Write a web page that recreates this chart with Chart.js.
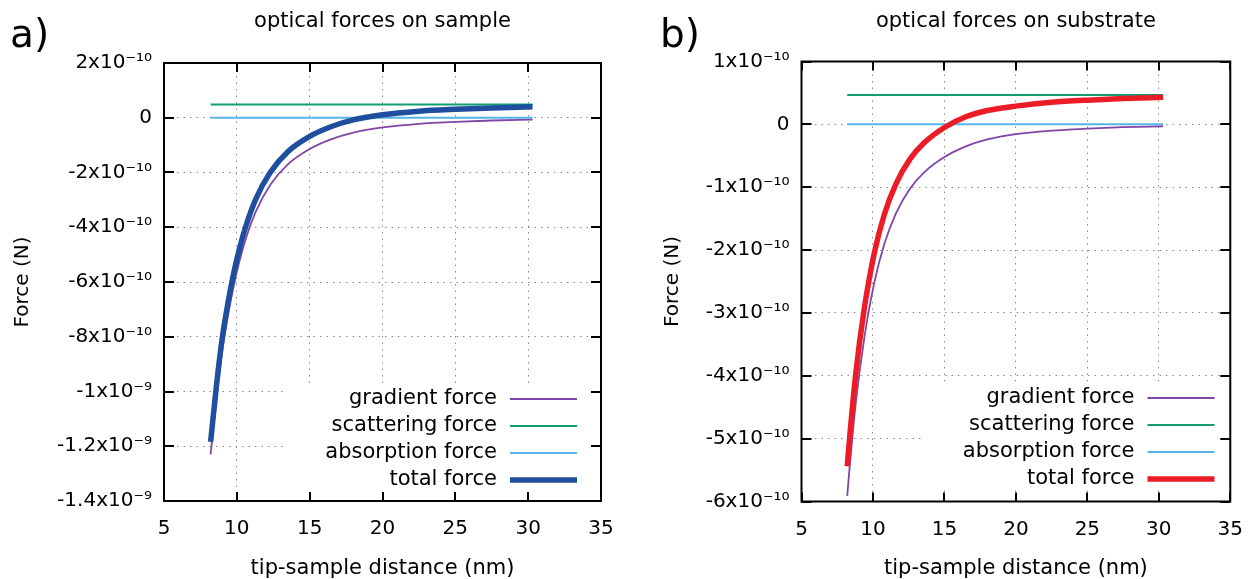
<!DOCTYPE html>
<html><head><meta charset="utf-8">
<script src="https://cdn.jsdelivr.net/npm/chart.js@4.4.1/dist/chart.umd.min.js"></script>
<style>
html,body{margin:0;padding:0;background:#fff;width:1259px;height:579px;overflow:hidden}
#wa{position:absolute;left:0;top:0;width:630px;height:579px}
#wb{position:absolute;left:630px;top:0;width:629px;height:579px}
canvas{display:block}
</style></head><body>
<div id="wa"><canvas id="ca" width="630" height="579"></canvas></div>
<div id="wb"><canvas id="cb" width="629" height="579"></canvas></div>
<script>
// ---------- data (forces in N, distance in nm) ----------
const seriesNames = ['gradient force', 'scattering force', 'absorption force', 'total force'];

// panel a) optical forces on sample
const distA = [8.2, 8.6, 9.0, 9.4, 9.8, 10.2, 10.6, 11.3, 12.3, 13.5, 15, 16.5, 18, 20, 22.5, 25, 27.5, 30.3];
const gradientA = [-12.3e-10, -10.25e-10, -8.5e-10, -7.2e-10, -6.1e-10, -5.2e-10, -4.45e-10, -3.43e-10, -2.45e-10, -1.7e-10, -1.14e-10, -0.78e-10, -0.54e-10, -0.35e-10, -0.22e-10, -0.15e-10, -0.1e-10, -0.065e-10];
const scatteringA = [4.8e-11, 4.8e-11, 4.8e-11, 4.8e-11, 4.8e-11, 4.8e-11, 4.8e-11, 4.8e-11, 4.8e-11, 4.8e-11, 4.8e-11, 4.8e-11, 4.8e-11, 4.8e-11, 4.8e-11, 4.8e-11, 4.8e-11, 4.8e-11];
const absorptionA = [0, 0, 0, 0, 0, 0, 0, 0, 0, 0, 0, 0, 0, 0, 0, 0, 0, 0];
const totalA = [-11.84e-10, -9.79e-10, -8.04e-10, -6.74e-10, -5.64e-10, -4.74e-10, -3.99e-10, -2.97e-10, -1.99e-10, -1.24e-10, -0.68e-10, -0.32e-10, -0.08e-10, 0.11e-10, 0.24e-10, 0.31e-10, 0.36e-10, 0.40e-10];

// panel b) optical forces on substrate
const distB = [8.2, 8.4, 8.8, 9.4, 10.1, 10.8, 11.6, 12.6, 13.6, 15, 16.5, 18, 20, 22.5, 25, 27.5, 30.3];
const gradientB = [-5.91e-10, -5.37e-10, -4.43e-10, -3.39e-10, -2.51e-10, -1.9e-10, -1.42e-10, -1.02e-10, -0.76e-10, -0.52e-10, -0.35e-10, -0.24e-10, -0.155e-10, -0.1e-10, -0.068e-10, -0.045e-10, -0.03e-10];
const scatteringB = [4.66e-11, 4.66e-11, 4.66e-11, 4.66e-11, 4.66e-11, 4.66e-11, 4.66e-11, 4.66e-11, 4.66e-11, 4.66e-11, 4.66e-11, 4.66e-11, 4.66e-11, 4.66e-11, 4.66e-11, 4.66e-11, 4.66e-11];
const absorptionB = [0, 0, 0, 0, 0, 0, 0, 0, 0, 0, 0, 0, 0, 0, 0, 0, 0];
const totalB = [-5.44e-10, -4.9e-10, -3.96e-10, -2.92e-10, -2.04e-10, -1.43e-10, -0.95e-10, -0.55e-10, -0.29e-10, -0.05e-10, 0.12e-10, 0.22e-10, 0.29e-10, 0.35e-10, 0.385e-10, 0.41e-10, 0.43e-10];

// ticks
const xTickValues = [5, 10, 15, 20, 25, 30, 35];
const xTickLabels = ['5', '10', '15', '20', '25', '30', '35'];
const yTickValuesA = [-14e-10, -12e-10, -10e-10, -8e-10, -6e-10, -4e-10, -2e-10, 0, 2e-10];
const yTickLabelsA = ['-1.4x10⁻⁹', '-1.2x10⁻⁹', '-1x10⁻⁹', '-8x10⁻¹⁰', '-6x10⁻¹⁰', '-4x10⁻¹⁰', '-2x10⁻¹⁰', '0', '2x10⁻¹⁰'];
const yTickValuesB = [-6e-10, -5e-10, -4e-10, -3e-10, -2e-10, -1e-10, 0, 1e-10];
const yTickLabelsB = ['-6x10⁻¹⁰', '-5x10⁻¹⁰', '-4x10⁻¹⁰', '-3x10⁻¹⁰', '-2x10⁻¹⁰', '-1x10⁻¹⁰', '0', '1x10⁻¹⁰'];

const titleA = 'optical forces on sample';
const titleB = 'optical forces on substrate';
const letterA = 'a)';
const letterB = 'b)';
const xAxisTitle = 'tip-sample distance (nm)';
const yAxisTitle = 'Force (N)';

// ---------- drawing ----------
const FONT = '"DejaVu Sans", "Liberation Sans", sans-serif';

const gnuplotFrame = {
  id: 'gnuplotFrame',
  beforeDatasetsDraw(chart, args, o) {
    const { ctx, chartArea: a } = chart;
    ctx.save();
    ctx.fillStyle = '#fff';
    ctx.fillRect(a.left + o.keyBox[0], a.top + o.keyBox[1], o.keyBox[2], o.keyBox[3]);
    ctx.restore();
  },
  afterDatasetsDraw(chart, args, o) {
    const { ctx, chartArea: a, scales } = chart;
    ctx.save();
    ctx.strokeStyle = '#000';
    ctx.lineWidth = 2;
    ctx.lineCap = 'butt';
    ctx.beginPath();
    scales.x.ticks.forEach(t => {
      const px = Math.round(scales.x.getPixelForValue(t.value));
      ctx.moveTo(px, a.bottom); ctx.lineTo(px, a.bottom - 9);
      ctx.moveTo(px, a.top); ctx.lineTo(px, a.top + 9);
    });
    scales.y.ticks.forEach(t => {
      const py = Math.round(scales.y.getPixelForValue(t.value));
      ctx.moveTo(a.left, py); ctx.lineTo(a.left + 10, py);
      ctx.moveTo(a.right, py); ctx.lineTo(a.right - 10, py);
    });
    ctx.stroke();
    ctx.strokeRect(a.left, a.top, a.right - a.left, a.bottom - a.top);

    // key
    ctx.font = '21px ' + FONT;
    ctx.textAlign = 'right';
    ctx.textBaseline = 'middle';
    chart.data.datasets.forEach((ds, i) => {
      const y = Math.round(a.top + o.keyTop + i * o.keyStep);
      ctx.fillStyle = '#000';
      ctx.fillText(ds.label, a.left + o.keyText, y);
      ctx.strokeStyle = ds.borderColor;
      ctx.lineWidth = ds.borderWidth;
      ctx.beginPath();
      ctx.moveTo(a.left + o.keyLine[0], y);
      ctx.lineTo(a.left + o.keyLine[1], y);
      ctx.stroke();
    });

    // title and panel letter
    ctx.fillStyle = '#000';
    ctx.textAlign = 'center';
    ctx.font = '21px ' + FONT;
    ctx.fillText(o.title, (a.left + a.right) / 2, 22);
    ctx.textAlign = 'left';
    ctx.font = '39px ' + FONT;
    ctx.fillText(o.letter, o.letterX, 37);
    ctx.restore();
  }
};

function makePanel(canvasId, cfg) {
  const colors = ['#8046a6', '#0f9e73', '#56b4e9', cfg.totalColor];
  const widths = [1.8, 2, 2, 5.5];
  const series = [cfg.gradient, cfg.scattering, cfg.absorption, cfg.total];
  const datasets = series.map((vals, i) => ({
    label: seriesNames[i],
    data: cfg.dist.map((d, k) => ({ x: d, y: vals[k] })),
    borderColor: colors[i],
    backgroundColor: colors[i],
    borderWidth: widths[i],
    pointRadius: 0,
    borderCapStyle: 'butt',
    borderJoinStyle: 'round',
    cubicInterpolationMode: 'monotone',
    fill: false,
    order: 4 - i
  }));
  return new Chart(document.getElementById(canvasId), {
    type: 'line',
    data: { datasets },
    options: {
      responsive: false,
      animation: false,
      events: [],
      layout: { padding: { left: cfg.padLeft, right: cfg.padRight, top: cfg.padTop, bottom: 0 } },
      plugins: {
        legend: { display: false },
        tooltip: { enabled: false },
        gnuplotFrame: {
          title: cfg.title, letter: cfg.letter, letterX: cfg.letterX,
          keyBox: [121, 320, 304, 108],
          keyTop: 336, keyStep: 27, keyText: 333, keyLine: [346, 413]
        }
      },
      scales: {
        x: {
          type: 'linear', min: 5, max: 35,
          afterBuildTicks: s => { s.ticks = xTickValues.map(v => ({ value: v })); },
          afterFit: s => { s.height = cfg.xAxisHeight; },
          ticks: {
            callback: (v, i) => xTickLabels[i],
            font: { family: FONT, size: 20 }, color: '#000', padding: 16,
            maxRotation: 0, autoSkip: false
          },
          grid: { color: '#8a8a8a', lineWidth: 1, drawTicks: false },
          border: { display: false, dash: [1.5, 5] },
          title: { display: true, text: xAxisTitle, font: { family: FONT, size: 21, lineHeight: 1.0 }, color: '#000', padding: { top: 0, bottom: 0 } }
        },
        y: {
          type: 'linear', min: cfg.yTicks[0], max: cfg.yTicks[cfg.yTicks.length - 1],
          afterBuildTicks: s => { s.ticks = cfg.yTicks.map(v => ({ value: v })); },
          afterFit: s => { s.width = cfg.yAxisWidth; },
          ticks: {
            callback: (v, i) => cfg.yLabels[i],
            font: { family: FONT, size: 20 }, color: '#000', padding: 12, autoSkip: false
          },
          grid: { color: '#8a8a8a', lineWidth: 1, drawTicks: false },
          border: { display: false, dash: [1.5, 5] },
          title: { display: true, text: yAxisTitle, font: { family: FONT, size: 20 }, color: '#000', padding: { top: 11, bottom: 0 } }
        }
      }
    },
    plugins: [gnuplotFrame]
  });
}

makePanel('ca', {
  dist: distA, gradient: gradientA, scattering: scatteringA, absorption: absorptionA, total: totalA,
  totalColor: '#1f4e9f', yTicks: yTickValuesA, yLabels: yTickLabelsA,
  title: titleA, letter: letterA, letterX: 10,
  padLeft: 0, padRight: 29, padTop: 63, yAxisWidth: 164, xAxisHeight: 78
});
makePanel('cb', {
  dist: distB, gradient: gradientB, scattering: scatteringB, absorption: absorptionB, total: totalB,
  totalColor: '#ec1c26', yTicks: yTickValuesB, yLabels: yTickLabelsB,
  title: titleB, letter: letterB, letterX: 30,
  padLeft: 20, padRight: 19.5, padTop: 61.5, yAxisWidth: 151.5, xAxisHeight: 77.5
});
</script>
</body></html>
